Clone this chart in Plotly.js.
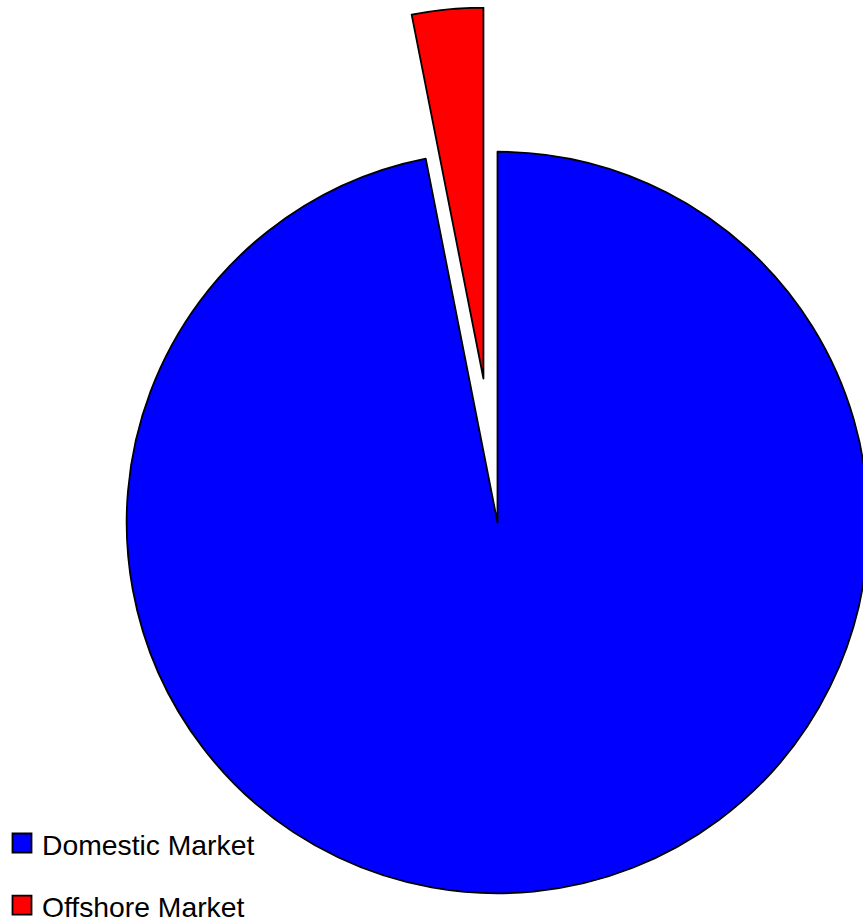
<!DOCTYPE html>
<html>
<head>
<meta charset="utf-8">
<script src="https://cdn.plot.ly/plotly-3.0.1.min.js"></script>
<style>
html, body { margin:0; padding:0; overflow:hidden; background:#ffffff; width:863px; height:920px; }
#chart { position:absolute; left:-18px; top:7px; width:1031px; height:1031px; }
</style>
</head>
<body>
<div id="chart"></div>
<script>
// ---- data ----
const labels = ['Domestic Market', 'Offshore Market'];
const values = [96.9, 3.1];
const sliceColors = ['#0000FF', '#FF0000'];
const pulls = [0, 0.39];

// legend text size (item spacing comes from legend font size)
const legendLabels = labels.map(l => '<span style="font-size:28.3px;baseline-shift:6.5px">' + l + '</span>');

const trace = {
  type: 'pie',
  labels: legendLabels,
  values: values,
  sort: false,
  direction: 'clockwise',
  rotation: 0,
  pull: pulls,
  textinfo: 'none',
  hoverinfo: 'none',
  marker: { colors: sliceColors, line: { color: '#000000', width: 1.8 } },
  domain: { x: [0, 1], y: [0, 1] }
};

const layout = {
  width: 1031,
  height: 1031,
  margin: { l: 0, r: 0, t: 0, b: 0, pad: 0 },
  paper_bgcolor: '#ffffff',
  showlegend: true,
  legend: {
    x: 20 / 1031,
    xanchor: 'left',
    y: 1 - 800 / 1031,
    yanchor: 'top',
    bgcolor: 'rgba(0,0,0,0)',
    borderwidth: 0,
    font: { family: 'Liberation Sans, Arial, sans-serif', size: 45.4, color: '#000000' }
  },
  font: { family: 'Liberation Sans, Arial, sans-serif', color: '#000000' }
};

Plotly.newPlot('chart', [trace], layout, { staticPlot: true, displayModeBar: false }).then(function (gd) {
  gd.querySelectorAll('.legendpoints path').forEach(function (p) {
    p.setAttribute('d', 'M9.5,9.5V-9.5H-9.5V9.5Z');
  });
});
</script>
</body>
</html>
